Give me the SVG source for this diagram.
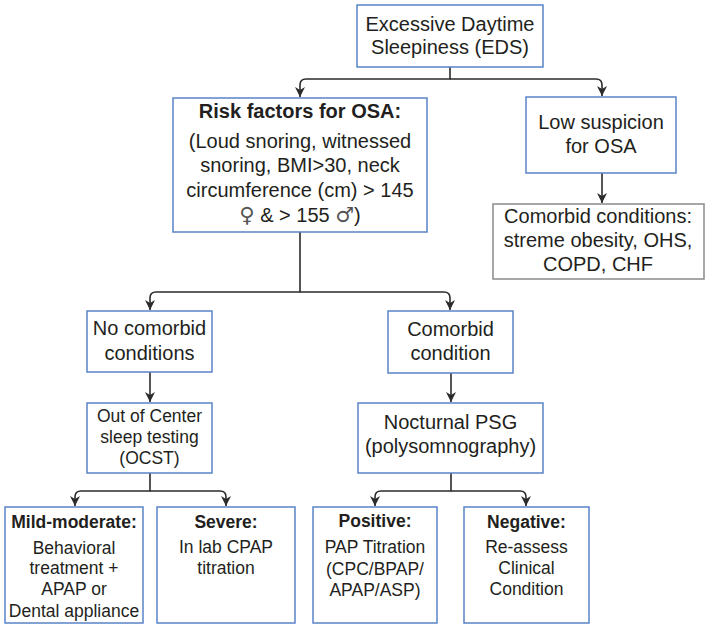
<svg xmlns="http://www.w3.org/2000/svg" width="706" height="625" viewBox="0 0 706 625">
<style>
.box{fill:#fff;stroke:#5a83c6;stroke-width:1.5}
.gbox{fill:#fff;stroke:#8a8a8a;stroke-width:1.5}
text{font-family:"Liberation Sans",Arial,sans-serif;fill:#231f20;text-anchor:middle}
.t20{font-size:20px}
.t17{font-size:17.5px}
.b{font-weight:bold}
.sym{font-family:"DejaVu Sans",sans-serif;font-size:21px;fill:#555}
.c{fill:none;stroke:#2b2b2b;stroke-width:1.6}
</style>
<defs>
<marker id="ah" markerUnits="userSpaceOnUse" markerWidth="12" markerHeight="12" viewBox="-10 -6 12 12" refX="0" refY="0" orient="auto">
<path d="M-10,-5 L0,0 L-10,5 L-7,0 Z" fill="#2b2b2b"/>
</marker>
</defs>
<rect width="706" height="625" fill="#fff"/>
<g id="connectors">
<path class="c" d="M450,67 V79 H306 Q300,79 300,85 V97" marker-end="url(#ah)"/>
<path class="c" d="M450,79 H596 Q602,79 602,85 V96" marker-end="url(#ah)"/>
<path class="c" d="M602,173 V203" marker-end="url(#ah)"/>
<path class="c" d="M300,232 V292 H156 Q150,292 150,298 V310" marker-end="url(#ah)"/>
<path class="c" d="M300,292 H444 Q450,292 450,298 V310" marker-end="url(#ah)"/>
<path class="c" d="M150,372 V402" marker-end="url(#ah)"/>
<path class="c" d="M451,373 V402" marker-end="url(#ah)"/>
<path class="c" d="M150,473 V491 H81 Q75,491 75,497 V506" marker-end="url(#ah)"/>
<path class="c" d="M150,491 H220 Q226,491 226,497 V506" marker-end="url(#ah)"/>
<path class="c" d="M451,473 V491 H381 Q375,491 375,497 V506" marker-end="url(#ah)"/>
<path class="c" d="M451,491 H520 Q526,491 526,497 V506" marker-end="url(#ah)"/>
</g>
<g id="eds">
<rect class="box" x="357" y="5" width="186" height="62"/>
<text class="t20" x="450" y="31">Excessive Daytime</text>
<text class="t20" x="450" y="54">Sleepiness (EDS)</text>
</g>
<g id="risk">
<rect class="box" x="173" y="98" width="254" height="134"/>
<text class="t20 b" x="300" y="118">Risk factors for OSA:</text>
<text class="t20" x="300" y="148">(Loud snoring, witnessed</text>
<text class="t20" x="300" y="172">snoring, BMI&gt;30, neck</text>
<text class="t20" x="300" y="197">circumference (cm) &gt; 145</text>
<text class="t20" x="300" y="222"><tspan class="sym">♀</tspan> &amp; &gt; 155 <tspan class="sym">♂</tspan>)</text>
</g>
<g id="low">
<rect class="box" x="526" y="97" width="150" height="76"/>
<text class="t20" x="601" y="129">Low suspicion</text>
<text class="t20" x="601" y="153">for OSA</text>
</g>
<g id="comorbid-conditions">
<rect class="gbox" x="493" y="204" width="211" height="75"/>
<text class="t20" x="598" y="223">Comorbid conditions:</text>
<text class="t20" x="598" y="247">streme obesity, OHS,</text>
<text class="t20" x="598" y="271">COPD, CHF</text>
</g>
<g id="no-comorbid">
<rect class="box" x="87" y="311" width="125" height="61"/>
<text class="t20" x="149.5" y="335">No comorbid</text>
<text class="t20" x="149.5" y="360">conditions</text>
</g>
<g id="comorbid">
<rect class="box" x="388" y="311" width="125" height="62"/>
<text class="t20" x="450.5" y="336">Comorbid</text>
<text class="t20" x="450.5" y="360">condition</text>
</g>
<g id="ocst">
<rect class="box" x="87" y="403" width="125" height="70"/>
<text class="t17" x="149.5" y="422">Out of Center</text>
<text class="t17" x="149.5" y="443">sleep testing</text>
<text class="t17" x="149.5" y="464">(OCST)</text>
</g>
<g id="psg">
<rect class="box" x="358" y="403" width="185" height="70"/>
<text class="t20" x="450.5" y="429">Nocturnal PSG</text>
<text class="t20" x="450.5" y="453">(polysomnography)</text>
</g>
<g id="mild">
<rect class="box" x="5" y="507" width="138" height="116"/>
<text class="t17 b" x="74" y="528">Mild-moderate:</text>
<text class="t17" x="74" y="554">Behavioral</text>
<text class="t17" x="74" y="574">treatment +</text>
<text class="t17" x="74" y="595">APAP or</text>
<text class="t17" x="74" y="617">Dental appliance</text>
</g>
<g id="severe">
<rect class="box" x="157" y="507" width="138" height="116"/>
<text class="t17 b" x="226" y="528">Severe:</text>
<text class="t17" x="226" y="553">In lab CPAP</text>
<text class="t17" x="226" y="574">titration</text>
</g>
<g id="positive">
<rect class="box" x="313" y="507" width="124" height="116"/>
<text class="t17 b" x="375" y="527">Positive:</text>
<text class="t17" x="375" y="553">PAP Titration</text>
<text class="t17" x="375" y="575">(CPC/BPAP/</text>
<text class="t17" x="375" y="596">APAP/ASP)</text>
</g>
<g id="negative">
<rect class="box" x="464" y="507" width="125" height="116"/>
<text class="t17 b" x="526.5" y="528">Negative:</text>
<text class="t17" x="526.5" y="553">Re-assess</text>
<text class="t17" x="526.5" y="574">Clinical</text>
<text class="t17" x="526.5" y="595">Condition</text>
</g>
</svg>
